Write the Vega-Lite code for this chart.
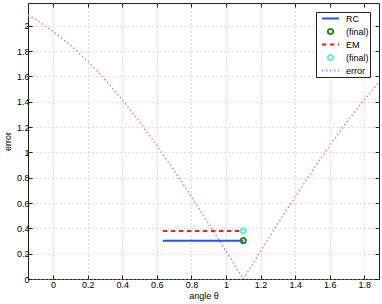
{
  "$schema": "https://vega.github.io/schema/vega-lite/v6.json",
  "width": 351,
  "height": 276,
  "autosize": {"type": "none"},
  "padding": {"left": 28, "top": 3, "right": 3, "bottom": 25},
  "background": "white",
  "config": {
    "font": "Liberation Sans",
    "view": {"stroke": "#222222", "strokeWidth": 1},
    "axis": {
      "domain": false,
      "gridColor": "#b8b8b8",
      "gridDash": [1, 3],
      "gridWidth": 1,
      "tickSize": -4,
      "tickColor": "#222222",
      "labelFontSize": 9,
      "labelColor": "#000000",
      "titleFontSize": 9,
      "titleFontWeight": "normal",
      "titleColor": "#000000"
    },
    "legend": {
      "orient": "top-right",
      "offset": 9,
      "strokeColor": "#222222",
      "fillColor": "white",
      "padding": 1,
      "labelFontSize": 9,
      "labelColor": "#000000",
      "labelOffset": 10,
      "symbolOffset": 8,
      "symbolSize": 81,
      "symbolStrokeWidth": 2,
      "symbolFillColor": "transparent",
      "rowPadding": 0
    }
  },
  "data": {
    "values": [
      {"series": "error", "x": -0.145, "y": 2.085},
      {"series": "error", "x": -0.1, "y": 2.05},
      {"series": "error", "x": 0.0, "y": 1.955},
      {"series": "error", "x": 0.1, "y": 1.848},
      {"series": "error", "x": 0.2, "y": 1.72},
      {"series": "error", "x": 0.3, "y": 1.577},
      {"series": "error", "x": 0.4, "y": 1.415},
      {"series": "error", "x": 0.5, "y": 1.242},
      {"series": "error", "x": 0.6, "y": 1.055},
      {"series": "error", "x": 0.7, "y": 0.857},
      {"series": "error", "x": 0.8, "y": 0.65},
      {"series": "error", "x": 0.9, "y": 0.437},
      {"series": "error", "x": 1.0, "y": 0.22},
      {"series": "error", "x": 1.1, "y": 0.0},
      {"series": "error", "x": 1.2, "y": 0.22},
      {"series": "error", "x": 1.3, "y": 0.437},
      {"series": "error", "x": 1.4, "y": 0.65},
      {"series": "error", "x": 1.5, "y": 0.857},
      {"series": "error", "x": 1.6, "y": 1.055},
      {"series": "error", "x": 1.7, "y": 1.242},
      {"series": "error", "x": 1.8, "y": 1.417},
      {"series": "error", "x": 1.885, "y": 1.555},
      {"series": "RC", "x": 0.635, "y": 0.303},
      {"series": "RC", "x": 1.1, "y": 0.303},
      {"series": "EM", "x": 0.635, "y": 0.38},
      {"series": "EM", "x": 1.1, "y": 0.38},
      {"series": "RC (final)", "x": 1.1, "y": 0.303},
      {"series": "EM (final)", "x": 1.1, "y": 0.38}
    ]
  },
  "encoding": {
    "x": {
      "field": "x",
      "type": "quantitative",
      "scale": {"domain": [-0.145, 1.885], "nice": false, "zero": false},
      "axis": null
    },
    "y": {
      "field": "y",
      "type": "quantitative",
      "scale": {"domain": [0, 2.18], "nice": false},
      "axis": null
    },
    "color": {
      "field": "series",
      "type": "nominal",
      "scale": {
        "domain": ["RC", "RC (final)", "EM", "EM (final)", "error"],
        "range": ["#2255ee", "#1e8a1e", "#f02020", "#60f0c8", "#c27eff"]
      },
      "legend": {
        "title": null,
        "labelExpr": "indexof(datum.label, 'final') >= 0 ? '(final)' : datum.label"
      }
    },
    "strokeDash": {
      "field": "series",
      "type": "nominal",
      "scale": {
        "domain": ["RC", "RC (final)", "EM", "EM (final)", "error"],
        "range": [[1, 0], [1, 0], [4.5, 3.5], [1, 0], [1.5, 2.5]]
      },
      "legend": {
        "title": null,
        "labelExpr": "indexof(datum.label, 'final') >= 0 ? '(final)' : datum.label"
      }
    }
  },
  "layer": [
    {
      "transform": [{"filter": "datum.series == 'error'"}],
      "mark": {"type": "line", "strokeWidth": 1.5},
      "encoding": {
        "x": {
          "field": "x",
          "type": "quantitative",
          "scale": {"domain": [-0.145, 1.885], "nice": false, "zero": false},
          "axis": {"title": "angle θ", "grid": true, "orient": "bottom", "values": [0, 0.2, 0.4, 0.6, 0.8, 1, 1.2, 1.4, 1.6, 1.8], "format": "~g", "labelPadding": 5, "titlePadding": 2}
        },
        "y": {
          "field": "y",
          "type": "quantitative",
          "scale": {"domain": [0, 2.18], "nice": false},
          "axis": {"title": "error", "grid": true, "orient": "left", "values": [0, 0.2, 0.4, 0.6, 0.8, 1, 1.2, 1.4, 1.6, 1.8, 2], "format": "~g", "labelPadding": 3, "titlePadding": 4}
        }
      }
    },
    {
      "transform": [{"filter": "datum.series == 'RC'"}],
      "mark": {"type": "line", "strokeWidth": 2}
    },
    {
      "transform": [{"filter": "datum.series == 'EM'"}],
      "mark": {"type": "line", "strokeWidth": 2}
    },
    {
      "transform": [{"filter": "indexof(datum.series, 'final') >= 0"}],
      "mark": {"type": "point", "filled": false, "strokeWidth": 2, "opacity": 1, "size": 81},
      "encoding": {
        "shape": {
          "field": "series",
          "type": "nominal",
          "scale": {
            "domain": ["RC", "RC (final)", "EM", "EM (final)", "error"],
            "range": [
              "M-1.9,0H1.9",
              "M0,-0.58A0.58,0.58 0 1 1 0,0.58A0.58,0.58 0 1 1 0,-0.58Z",
              "M-1.9,0H1.9",
              "M0,-0.58A0.58,0.58 0 1 1 0,0.58A0.58,0.58 0 1 1 0,-0.58Z",
              "M-1.9,0H1.9"
            ]
          },
          "legend": {
            "title": null,
            "labelExpr": "indexof(datum.label, 'final') >= 0 ? '(final)' : datum.label"
          }
        }
      }
    },
    {
      "transform": [{"filter": "datum.series == 'RC (final)'"}],
      "mark": {"type": "point", "opacity": 0, "size": 1},
      "encoding": {
        "x": {
          "field": "x",
          "type": "quantitative",
          "scale": {"domain": [-0.145, 1.885], "nice": false, "zero": false},
          "axis": {"title": null, "orient": "top", "grid": false, "labels": false, "values": [0, 0.2, 0.4, 0.6, 0.8, 1, 1.2, 1.4, 1.6, 1.8]}
        },
        "y": {
          "field": "y",
          "type": "quantitative",
          "scale": {"domain": [0, 2.18], "nice": false},
          "axis": {"title": null, "orient": "right", "grid": false, "labels": false, "values": [0, 0.2, 0.4, 0.6, 0.8, 1, 1.2, 1.4, 1.6, 1.8, 2]}
        }
      }
    }
  ],
  "resolve": {"axis": {"x": "independent", "y": "independent"}}
}
